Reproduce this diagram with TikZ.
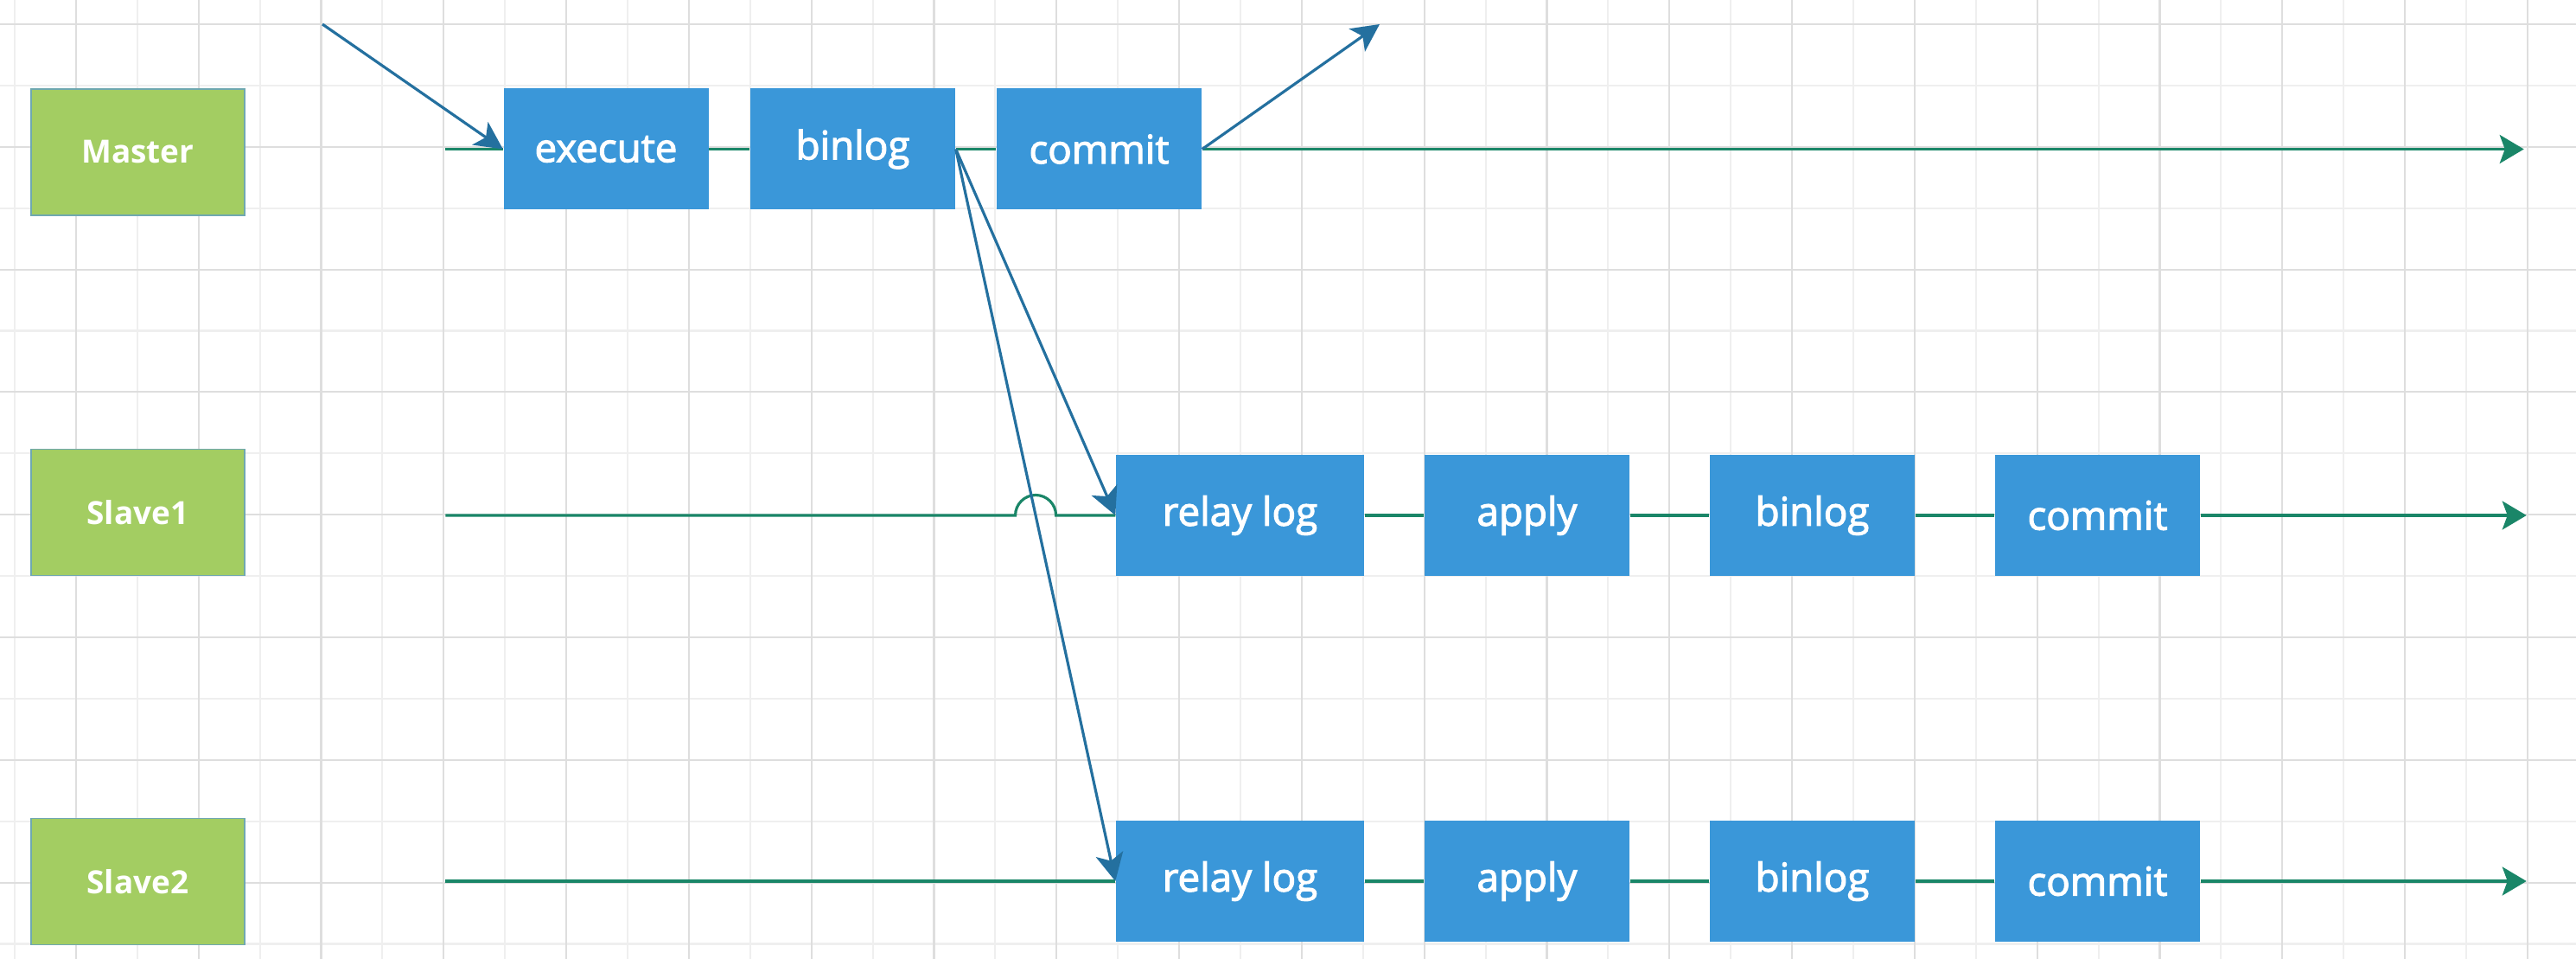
\documentclass[tikz,border=0pt]{standalone}
\usepackage{fontspec}
\setmainfont{Open Sans}
\newfontfamily\labelfont{Open Sans}[FakeBold=2.5]
\usetikzlibrary{calc,arrows.meta}

\definecolor{nodegreen}{HTML}{A3CD62}
\definecolor{nodeedge}{HTML}{6FA8B0}
\definecolor{boxblue}{HTML}{3A97D9}
\definecolor{arrowblue}{HTML}{24709F}
\definecolor{lineteal}{HTML}{1A8668}
\definecolor{gridlight}{HTML}{EFEFEF}
\definecolor{griddark}{HTML}{DEDEDE}

\begin{document}
\begin{tikzpicture}[
  server/.style={rectangle, fill=nodegreen, draw=nodeedge, line width=0.5pt, minimum width=2.47cm, minimum height=1.46cm, text=white, font=\fontsize{10.5}{12}\selectfont\bfseries},
  stage/.style={rectangle, fill=boxblue, minimum width=2.37cm, minimum height=1.40cm, text=white, font=\labelfont\fontsize{13}{15}\selectfont},
  relay/.style={stage, minimum width=2.87cm},
  timeline/.style={draw=lineteal, line width=0.9pt},
  flow/.style={draw=arrowblue, line width=0.9pt, -{Stealth[length=0.32cm, width=0.32cm, inset=0.08cm]}}
]

\useasboundingbox[fill=white] (0,0) rectangle (29.8,-11.09);
\draw[gridlight, line width=0.6pt, shift={(0.17,-0.28)}, step=0.709] (-0.17,-10.81) grid (29.63,0.28);
\draw[griddark, line width=0.6pt, shift={(0.879,-0.28)}, step=1.418] (-0.879,-10.81) grid (28.92,0.28);


\node[server] (M) at (1.595,-1.76) {Master};

\node[server] (S1) at ($(M) + (0, -4.165)$) {Slave1};

\node[server] (S2) at ($(M) + (0, -8.435)$) {Slave2};

\node[stage] (E) at ($(M) + (5.415, 0.035)$) {execute};

\node[stage] (B) at ($(E) + (2.855, 0)$) {binlog};

\node[stage] (C) at ($(B) + (2.85, 0)$) {commit};

\node[relay] (R1) at ($(S1) + (12.75, -0.035)$) {relay log};

\node[stage] (A1) at ($(R1) + (3.32, 0)$) {apply};

\node[stage] (B1) at ($(A1) + (3.30, 0)$) {binlog};

\node[stage] (C1) at ($(B1) + (3.30, 0)$) {commit};

\node[relay] (R2) at ($(R1) + (0, -4.23)$) {relay log};

\node[stage] (A2) at ($(R2) + (3.32, 0)$) {apply};

\node[stage] (B2) at ($(A2) + (3.30, 0)$) {binlog};

\node[stage] (C2) at ($(B2) + (3.30, 0)$) {commit};

\coordinate (ms) at ($(E.west) + (-0.67, 0)$);
\coordinate (me) at ($(C.east) + (15.29, 0)$);
\coordinate (s1s) at ($(R1.west) + (-7.75, 0)$);
\coordinate (s1e) at ($(C1.east) + (3.77, 0)$);
\coordinate (s2s) at ($(R2.west) + (-7.75, 0)$);
\coordinate (s2e) at ($(C2.east) + (3.77, 0)$);
\coordinate (in) at (3.73,-0.28);
\coordinate (out) at (15.96,-0.28);
\coordinate (jump) at (intersection of B.east--R2.west and s1s--R1.west);

% master line
\draw[timeline] (ms) -- (E.west);
\draw[timeline] (E.east) -- (B.west);
\draw[timeline] (B.east) -- (C.west);
\draw[timeline, -{Stealth[length=0.28cm, width=0.33cm, inset=0.06cm]}] (C.east) -- (me);

% slave1 line
\draw[timeline] (s1s) -- ([xshift=-0.235cm]jump) arc[start angle=180, end angle=0, radius=0.235cm] -- (R1.west);
\draw[timeline] (R1.east) -- (A1.west);
\draw[timeline] (A1.east) -- (B1.west);
\draw[timeline] (B1.east) -- (C1.west);
\draw[timeline, -{Stealth[length=0.28cm, width=0.33cm, inset=0.06cm]}] (C1.east) -- (s1e);

% slave2 line
\draw[timeline] (s2s) -- (R2.west);
\draw[timeline] (R2.east) -- (A2.west);
\draw[timeline] (A2.east) -- (B2.west);
\draw[timeline] (B2.east) -- (C2.west);
\draw[timeline, -{Stealth[length=0.28cm, width=0.33cm, inset=0.06cm]}] (C2.east) -- (s2e);

\draw[flow] (in) -- (E.west);
\draw[flow] (C.east) -- (out);
\draw[flow] (B.east) -- (R1.west);
\draw[flow] (B.east) -- (R2.west);

\end{tikzpicture}
\end{document}
